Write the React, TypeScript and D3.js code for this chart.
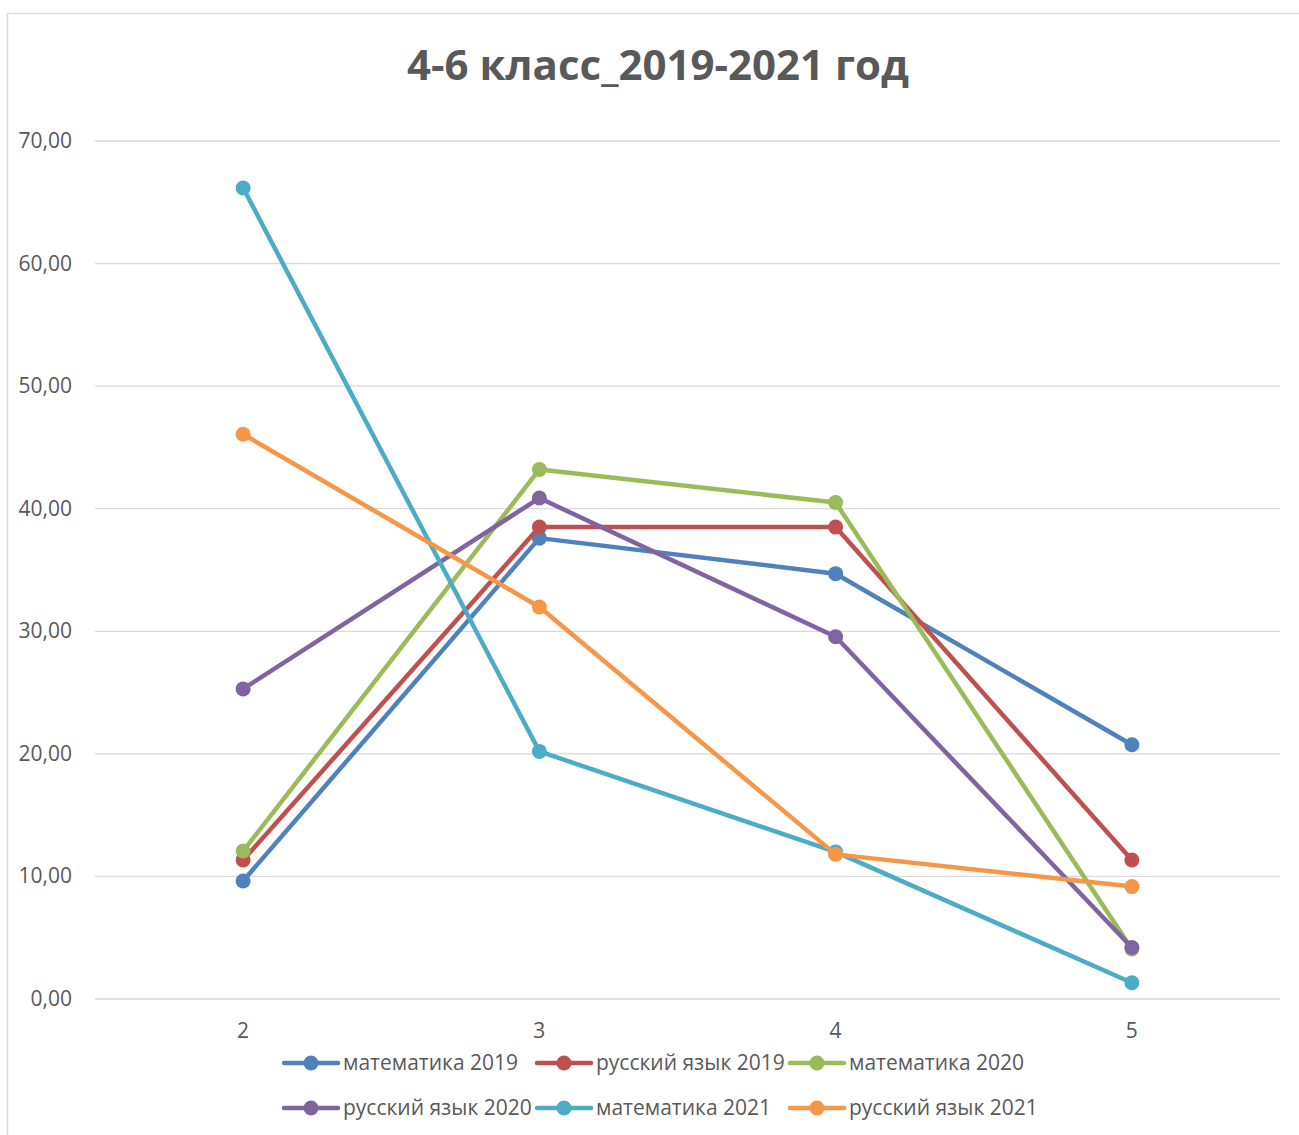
import React from "react";
import * as d3 from "d3";

const categories = ["2", "3", "4", "5"];
const seriesNames = [
  "математика 2019",
  "русский язык 2019",
  "математика 2020",
  "русский язык 2020",
  "математика 2021",
  "русский язык 2021",
];
const math2019 = [9.63, 37.6, 34.7, 20.74];
const rus2019 = [11.34, 38.5, 38.5, 11.34];
const math2020 = [12.07, 43.2, 40.5, 4.08];
const rus2020 = [25.3, 40.87, 29.55, 4.2];
const math2021 = [66.17, 20.2, 12.0, 1.33];
const rus2021 = [46.08, 31.98, 11.8, 9.17];
const seriesColors = ["#4F81BD", "#C0504D", "#9BBB59", "#8064A2", "#4BACC6", "#F79646"];
const yTicks = [0, 10, 20, 30, 40, 50, 60, 70];
const title = "4-6 класс_2019-2021 год";

const W = 1299;
const H = 1135;
const plot = { left: 95, right: 1280, top: 141, bottom: 999 };

export default function App() {
  const data = [math2019, rus2019, math2020, rus2020, math2021, rus2021];
  const x = d3.scaleBand().domain(categories).range([plot.left, plot.right]);
  const y = d3.scaleLinear().domain([0, 70]).range([plot.bottom, plot.top]);
  const cx = (c: string) => (x(c) as number) + x.bandwidth() / 2;
  const line = d3
    .line<number>()
    .x((_, i) => cx(categories[i]))
    .y((v) => y(v));
  const fmt = (v: number) => v.toFixed(2).replace(".", ",");
  const legendCols = [284, 537, 790];
  const legendRows = [1063, 1108];

  return (
    <svg
      width={W}
      height={H}
      style={{ position: "absolute", left: 0, top: 0, background: "#fff" }}
    >
      <rect x={7.5} y={13.5} width={1400} height={1200} fill="#fff" stroke="#d9d9d9" strokeWidth={1.5} />
      <text
        x={658}
        y={80}
        textAnchor="middle"
        fontFamily="'Open Sans', sans-serif"
        fontWeight="bold"
        fontSize={42}
        fill="#595959"
      >
        {title}
      </text>
      {yTicks.map((t) => (
        <g key={t}>
          <line x1={plot.left} x2={plot.right} y1={y(t)} y2={y(t)} stroke="#d9d9d9" strokeWidth={1.3} />
          <text
            x={72}
            y={y(t) + 7}
            textAnchor="end"
            fontFamily="'Open Sans', sans-serif"
            fontSize={21}
            fill="#595959"
          >
            {fmt(t)}
          </text>
        </g>
      ))}
      {categories.map((c) => (
        <text
          key={c}
          x={cx(c)}
          y={1038}
          textAnchor="middle"
          fontFamily="'Open Sans', sans-serif"
          fontSize={21}
          fill="#595959"
        >
          {c}
        </text>
      ))}
      {data.map((vals, si) => (
        <g key={si}>
          <path d={line(vals) || ""} fill="none" stroke={seriesColors[si]} strokeWidth={4.5} strokeLinejoin="round" />
          {vals.map((v, i) => (
            <circle key={i} cx={cx(categories[i])} cy={y(v)} r={7.5} fill={seriesColors[si]} />
          ))}
        </g>
      ))}
      {seriesNames.map((name, si) => {
        const lx = legendCols[si % 3];
        const ly = legendRows[Math.floor(si / 3)];
        return (
          <g key={name}>
            <line x1={lx} x2={lx + 54} y1={ly} y2={ly} stroke={seriesColors[si]} strokeWidth={4.5} strokeLinecap="round" />
            <circle cx={lx + 27} cy={ly} r={7.5} fill={seriesColors[si]} />
            <text
              x={lx + 59}
              y={ly + 7}
              fontFamily="'Open Sans', sans-serif"
              fontSize={21}
              fill="#595959"
            >
              {name}
            </text>
          </g>
        );
      })}
    </svg>
  );
}
